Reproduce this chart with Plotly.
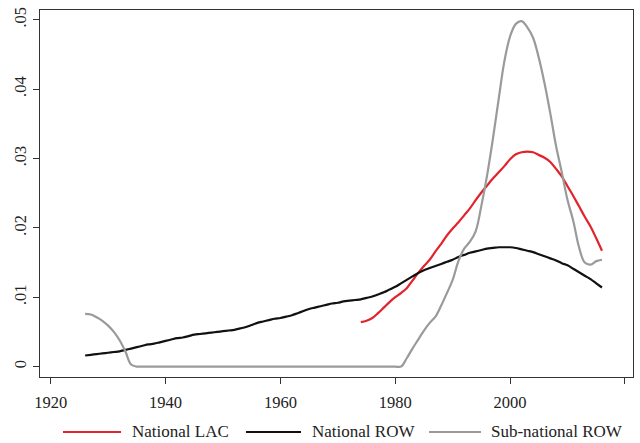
import plotly.graph_objects as go

# Years and densities for each series
years_row = list(range(1926, 2017))
national_row = [
    0.0016, 0.0017, 0.0018, 0.0019, 0.0020, 0.0021, 0.0022, 0.0024, 0.0026, 0.0028,
    0.0030, 0.0032, 0.0033, 0.0035, 0.0037, 0.0039, 0.0041, 0.0042, 0.0044, 0.0046,
    0.0047, 0.0048, 0.0049, 0.0050, 0.0051, 0.0052, 0.0053, 0.0055, 0.0057, 0.0060,
    0.0063, 0.0065, 0.0067, 0.0069, 0.0070, 0.0072, 0.0074, 0.0077, 0.0080, 0.0083,
    0.0085, 0.0087, 0.0089, 0.0091, 0.0092, 0.0094, 0.0095, 0.0096, 0.0097, 0.0099,
    0.0101, 0.0104, 0.0107, 0.0111, 0.0115, 0.0120, 0.0125, 0.0130, 0.0135, 0.0139,
    0.0142, 0.0145, 0.0148, 0.0151, 0.0154, 0.0158, 0.0161, 0.0164, 0.0166, 0.0168,
    0.0170, 0.0171, 0.0172, 0.0172, 0.0172, 0.0171, 0.0169, 0.0167, 0.0165, 0.0162,
    0.0159, 0.0156, 0.0153, 0.0149, 0.0146, 0.0141, 0.0136, 0.0131, 0.0126, 0.0120,
    0.0114,
]

subnational_row = [
    0.0076, 0.0075, 0.0071, 0.0066, 0.0059, 0.0050, 0.0038, 0.0022, 0.0003, 0.0,
    0.0, 0.0, 0.0, 0.0, 0.0, 0.0, 0.0, 0.0, 0.0, 0.0,
    0.0, 0.0, 0.0, 0.0, 0.0, 0.0, 0.0, 0.0, 0.0, 0.0,
    0.0, 0.0, 0.0, 0.0, 0.0, 0.0, 0.0, 0.0, 0.0, 0.0,
    0.0, 0.0, 0.0, 0.0, 0.0, 0.0, 0.0, 0.0, 0.0, 0.0,
    0.0, 0.0, 0.0, 0.0, 0.0, 0.0, 0.0012, 0.0026, 0.0039, 0.0052,
    0.0063, 0.0072, 0.0088, 0.0106, 0.0125, 0.0152, 0.0170, 0.0180, 0.0195, 0.0232,
    0.0276, 0.0328, 0.0385, 0.0440, 0.0476, 0.0494, 0.0498, 0.0489, 0.0474, 0.0445,
    0.0408, 0.0365, 0.0318, 0.0280, 0.0240, 0.0210, 0.0172, 0.0150, 0.0147, 0.0152,
    0.0154,
]

years_lac = list(range(1974, 2017))
national_lac = [
    0.0064, 0.0066, 0.0070, 0.0077, 0.0085, 0.0093, 0.0100, 0.0106, 0.0113, 0.0124,
    0.0135, 0.0145, 0.0154, 0.0166, 0.0177, 0.0189, 0.0199, 0.0208, 0.0218, 0.0228,
    0.0240, 0.0251, 0.0261, 0.0271, 0.0280, 0.0289, 0.0299, 0.0306, 0.0309, 0.0310,
    0.0309, 0.0305, 0.0301, 0.0295, 0.0285, 0.0274, 0.0260, 0.0246, 0.0231, 0.0216,
    0.0202, 0.0185, 0.0167,
]

x_ticks = [1920, 1940, 1960, 1980, 2000, 2020]
y_ticks = [0, 0.01, 0.02, 0.03, 0.04, 0.05]
y_tick_text = ["0", ".01", ".02", ".03", ".04", ".05"]

series_names = ["National LAC", "National ROW", "Sub-national ROW"]
series_colors = ["#e3232b", "#111111", "#9a9a9a"]

FONT = "Liberation Serif"
TEXT_COLOR = "#222222"

# Figure geometry in pixels
W, H = 640, 443
M_L, M_R, M_T, M_B = 40, 7, 10, 66
PLOT_W = W - M_L - M_R
PLOT_H = H - M_T - M_B


def px_to_paper_x(px):
    return (px - M_L) / PLOT_W


def px_to_paper_y(py):
    return (H - M_B - py) / PLOT_H


fig = go.Figure()
series = [
    (years_lac, national_lac),
    (years_row, national_row),
    (years_row, subnational_row),
]
for (xs, ys), name, color in zip(series, series_names, series_colors):
    fig.add_trace(go.Scatter(x=xs, y=ys, mode="lines", name=name, showlegend=False,
                             line=dict(color=color, width=2.2), line_shape="spline"))

axis_common = dict(showline=True, linecolor="#333333", linewidth=1, mirror=True,
                   ticks="outside", ticklen=6, tickcolor="#333333", tickwidth=1,
                   showgrid=False, zeroline=False,
                   tickfont=dict(family=FONT, size=16.5, color=TEXT_COLOR))

fig.update_xaxes(range=[1918.14, 2021.4], tickvals=x_ticks, ticklabelstandoff=4,
                 **axis_common)
fig.update_yaxes(range=[-0.0015, 0.0514], tickvals=y_ticks, ticktext=y_tick_text,
                 tickangle=-90, **axis_common)

# Legend row below the axis: a line sample followed by its label
legend_line_px = [(63, 121), (246, 301), (429, 481)]
legend_text_px = [130, 310, 489]
legend_y_px = 432
for (x0, x1), tx, name, color in zip(legend_line_px, legend_text_px, series_names, series_colors):
    fig.add_shape(type="line", xref="paper", yref="paper",
                  x0=px_to_paper_x(x0), x1=px_to_paper_x(x1),
                  y0=px_to_paper_y(legend_y_px), y1=px_to_paper_y(legend_y_px),
                  line=dict(color=color, width=2.2))
    fig.add_annotation(xref="paper", yref="paper", x=px_to_paper_x(tx),
                       y=px_to_paper_y(legend_y_px), text=name, showarrow=False,
                       xanchor="left", yanchor="middle",
                       font=dict(family=FONT, size=17, color=TEXT_COLOR))

fig.update_layout(
    width=W, height=H,
    margin=dict(l=M_L, r=M_R, t=M_T, b=M_B),
    paper_bgcolor="white", plot_bgcolor="white",
    font=dict(family=FONT, size=16.5, color=TEXT_COLOR),
    showlegend=False,
)

fig.write_html("out.html")
